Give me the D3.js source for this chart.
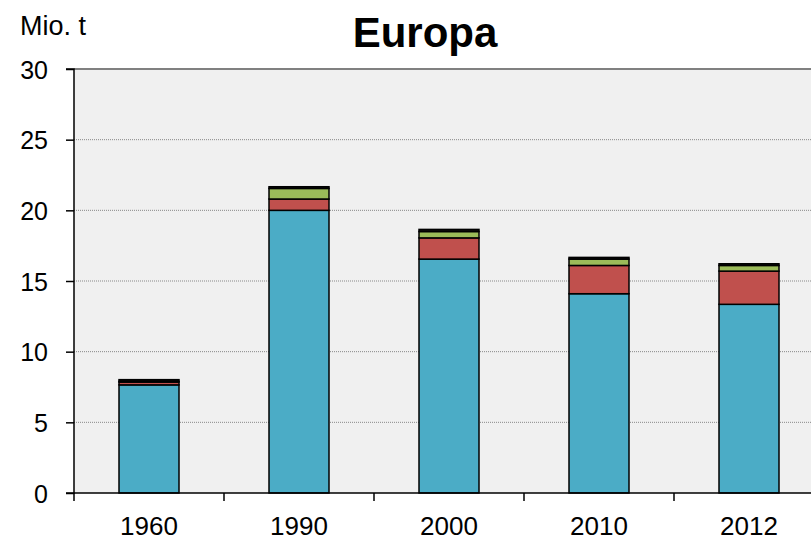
<!DOCTYPE html>
<html>
<head>
<meta charset="utf-8">
<script src="https://cdn.jsdelivr.net/npm/d3@7"></script>
<style>
  body { margin: 0; background: #fff; }
  text { font-family: "Liberation Sans", Arial, sans-serif; }
</style>
</head>
<body>
<div id="chart"></div>
<script>
const years = ["1960", "1990", "2000", "2010", "2012"];
const seriesNames = ["a", "b", "c", "d"];
const blue = [7.65, 20.0, 16.55, 14.1, 13.35];
const red = [0.2, 0.8, 1.5, 2.0, 2.35];
const green = [0.05, 0.75, 0.45, 0.45, 0.4];
const black = [0.12, 0.12, 0.15, 0.12, 0.12];
const colors = ["#4bacc6", "#c0504d", "#9bbb59", "#111"];
const yTicks = [0, 5, 10, 15, 20, 25, 30];

const width = 811, height = 538;
const margin = { top: 69, left: 74 };
const innerWidth = 750;
const innerHeight = 424;

const table = years.map((y, i) => ({ year: y, a: blue[i], b: red[i], c: green[i], d: black[i] }));
const stacked = d3.stack().keys(seriesNames)(table);

const svg = d3.select("#chart").append("svg")
  .attr("width", width).attr("height", height);

const g = svg.append("g").attr("transform", `translate(${margin.left},${margin.top})`);

const x = d3.scaleBand().domain(years).range([0, innerWidth]).paddingInner(0.6).paddingOuter(0.3);
const xb = d3.scaleBand().domain(years).range([0, innerWidth]);
const y = d3.scaleLinear().domain([0, 30]).range([innerHeight, 0]);

g.append("rect").attr("width", innerWidth).attr("height", innerHeight).attr("fill", "#f0f0f0");

g.selectAll(".grid").data(yTicks.filter(t => t > 0 && t < 30)).join("line")
  .attr("x1", 0).attr("x2", innerWidth)
  .attr("y1", d => y(d)).attr("y2", d => y(d))
  .attr("stroke", "#888").attr("stroke-width", 1).attr("stroke-dasharray", "1,1");

g.append("line").attr("x1", 0).attr("x2", innerWidth)
  .attr("y1", y(30)).attr("y2", y(30))
  .attr("stroke", "#808080").attr("stroke-width", 2);

g.selectAll(".layer").data(stacked).join("g")
  .attr("fill", (d, i) => colors[i])
  .selectAll("rect").data(d => d).join("rect")
  .attr("x", d => x(d.data.year))
  .attr("width", x.bandwidth())
  .attr("y", d => y(d[1]))
  .attr("height", d => y(d[0]) - y(d[1]))
  .attr("stroke", "#000").attr("stroke-width", 1.5);

// y axis
const yAxis = g.append("g")
  .call(d3.axisLeft(y).tickValues(yTicks).tickSize(8).tickPadding(18));
yAxis.select(".domain").attr("stroke", "#000").attr("stroke-width", 1.5).attr("d", `M-8,${y(30)}H0V${y(0)}H-8`);
yAxis.selectAll(".tick line").attr("stroke-width", 1.5);
yAxis.selectAll("text").attr("font-size", 25).attr("fill", "#000").attr("dy", "0.36em")
  .attr("font-family", "'Liberation Sans', Arial, sans-serif");

// x axis
const xAxisG = g.append("g").attr("transform", `translate(0,${y(0)})`);
xAxisG.append("line").attr("x1", 0).attr("x2", innerWidth).attr("stroke", "#000").attr("stroke-width", 1.5);
xAxisG.selectAll(".xt").data(years).join("line")
  .attr("x1", d => xb(d)).attr("x2", d => xb(d))
  .attr("y1", 0).attr("y2", 8).attr("stroke", "#000").attr("stroke-width", 1.5);
xAxisG.selectAll(".xl").data(years).join("text")
  .attr("x", d => xb(d) + xb.bandwidth() / 2)
  .attr("y", 42)
  .attr("text-anchor", "middle")
  .attr("font-size", 26)
  .text(d => d);

svg.append("text").attr("x", 425).attr("y", 47).attr("text-anchor", "middle")
  .attr("font-size", 42).attr("font-weight", "bold").text("Europa");
svg.append("text").attr("x", 20).attr("y", 35).attr("font-size", 27).text("Mio. t");
</script>
</body>
</html>
